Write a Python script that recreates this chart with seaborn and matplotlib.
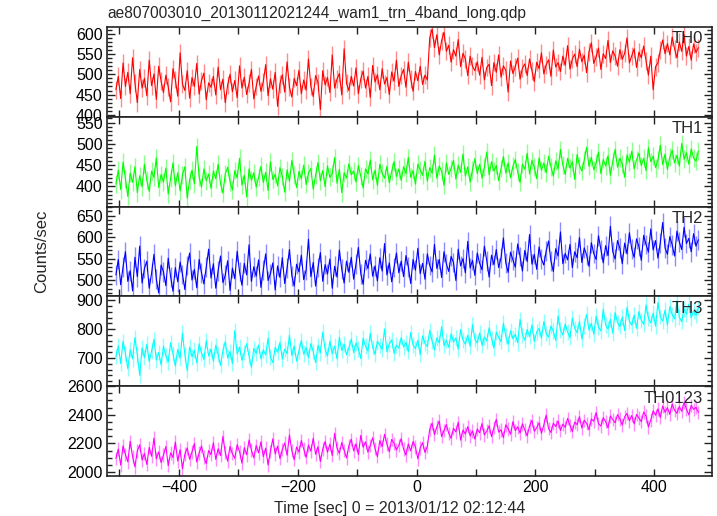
import numpy as np
import pandas as pd
import matplotlib
matplotlib.use("Agg")
import matplotlib.pyplot as plt
from matplotlib.ticker import MultipleLocator
import seaborn as sns

title = "ae807003010_20130112021244_wam1_trn_4band_long.qdp"
xlabel = "Time [sec] 0 = 2013/01/12 02:12:44"
ylabel = "Counts/sec"
t_start, t_step = -506, 4

th0 = [462, 495, 440, 528, 470, 505, 452, 541, 478, 430, 512, 466, 490, 447, 535, 472, 501, 438, 520, 483,
       455, 498, 469, 432, 514, 487, 446, 553, 476, 460, 509, 441, 492, 470, 527, 451, 484, 503, 437, 479,
       468, 495, 449, 518, 462, 488, 430, 474, 500, 457, 485, 442, 521, 466, 493, 450, 478, 512, 439, 470,
       496, 458, 482, 524, 447, 489, 463, 505, 421, 477, 499, 456, 531, 468, 444, 490, 472, 510, 452, 486,
       461, 538, 470, 445, 497, 480, 413, 509, 474, 492, 455, 548, 466, 488, 502, 449, 563, 478, 460, 495,
       471, 516, 452, 489, 508, 466, 495, 443, 522, 481, 499, 462, 514, 476, 492, 450, 506, 483, 535, 470,
       497, 512, 468, 530, 489, 458, 507, 484, 520, 475, 498, 486,
       590, 612, 566, 598, 548, 583, 604, 557, 572, 530, 561, 545, 586, 519, 552, 538, 497, 545, 520, 509,
       531, 498, 542, 486, 517, 525, 472, 529, 505, 548, 493, 521, 510, 456, 533, 502, 519, 540, 488, 515,
       526, 497, 538, 509, 482, 530, 514, 553, 501, 524, 536, 495, 560, 518, 529, 507, 545, 522, 571, 513,
       538, 550, 519, 562, 531, 547, 504, 556, 578, 527, 543, 565, 512, 551, 539, 584, 529, 558, 545, 520,
       561, 537, 552, 590, 528, 546, 563, 517, 555, 541, 570, 533, 498, 545, 462, 519, 528, 560, 585, 551,
       576, 548, 592, 563, 541, 580, 557, 598, 545, 569, 535, 575, 554, 566]

th1 = [405, 438, 392, 457, 418, 376, 431, 409, 446, 385, 425, 399, 452, 414, 388, 436, 421, 467, 397, 428,
       410, 443, 382, 419, 455, 401, 432, 389, 427, 446, 372, 415, 438, 406, 494, 422, 398, 441, 413, 429,
       395, 436, 418, 452, 407, 384, 429, 445, 411, 391, 437, 420, 466, 403, 426, 375, 441, 414, 432, 398,
       421, 447, 409, 433, 390, 458, 416, 428, 401, 444, 423, 386, 439, 412, 461, 427, 397, 435, 418, 450,
       404, 431, 442, 393, 426, 456, 413, 437, 399, 448, 421, 430, 468, 407, 440, 385, 432, 419, 453, 427,
       436, 410, 449, 424, 396, 441, 429, 462, 415, 438, 402, 452, 431, 419, 447, 408, 435, 458, 423, 441,
       414, 446, 430, 468, 421, 437, 405, 452, 439, 426, 459, 412, 444, 431, 473, 419, 448, 436, 402, 455,
       428, 442, 461, 417, 450, 433, 476, 424, 446, 410, 439, 465, 430, 452, 419, 445, 481, 427, 458, 436,
       449, 413, 442, 470, 431, 455, 420, 447, 463, 434, 409, 452, 440, 478, 429, 461, 445, 418, 467, 438,
       455, 432, 471, 446, 424, 460, 441, 487, 450, 428, 466, 443, 458, 416, 475, 449, 436, 462, 492, 447,
       468, 439, 455, 481, 430, 463, 448, 472, 426, 459, 487, 445, 466, 452, 421, 474, 457, 483, 441, 462,
       478, 449, 466, 437, 491, 458, 471, 444, 462, 497, 451, 476, 440, 469, 485, 455, 473, 448, 501, 464,
       479, 452, 488, 467, 459, 483]

th2 = [512, 548, 489, 531, 566, 497, 522, 475, 553, 508, 579, 493, 527, 544, 481, 516, 560, 502, 470, 535,
       519, 487, 551, 508, 474, 529, 496, 542, 513, 478, 534, 563, 500, 525, 482, 548, 517, 491, 530, 572,
       505, 538, 481, 522, 556, 494, 511, 545, 476, 528, 503, 567, 520, 488, 539, 512, 582, 497, 531, 509,
       547, 483, 524, 561, 499, 515, 540, 477, 533, 506, 552, 492, 528, 571, 510, 486, 537, 519, 558, 501,
       523, 595, 508, 541, 486, 529, 564, 497, 536, 514, 549, 481, 532, 507, 570, 525, 493, 544, 518, 553,
       502, 538, 576, 515, 490, 546, 527, 561, 509, 533, 498, 552, 521, 585, 512, 540, 496, 529, 563, 517,
       544, 508, 557, 531, 492, 548, 523, 574, 515, 539, 502, 561, 534, 519, 583, 527, 548, 506, 566, 538,
       520, 555, 541, 499, 572, 533, 550, 517, 590, 528, 546, 511, 563, 539, 524, 579, 545, 507, 558, 536,
       571, 529, 552, 598, 540, 518, 565, 547, 530, 584, 555, 521, 569, 543, 606, 537, 560, 525, 577, 549,
       535, 568, 591, 544, 520, 573, 556, 612, 538, 562, 547, 583, 529, 566, 552, 599, 541, 575, 558, 532,
       587, 562, 548, 603, 571, 540, 580, 557, 625, 566, 549, 592, 574, 538, 586, 561, 610, 572, 553, 596,
       578, 546, 604, 583, 565, 619, 570, 592, 551, 587, 634, 575, 560, 601, 582, 556, 614, 589, 571, 623,
       585, 597, 566, 608, 579, 594]

th3 = [705, 742, 681, 758, 716, 663, 729, 697, 771, 711, 640, 735, 702, 748, 688, 724, 765, 693, 719, 676,
       741, 708, 687, 753, 715, 672, 730, 699, 786, 712, 656, 738, 704, 727, 683, 749, 718, 695, 760, 707,
       731, 689, 744, 712, 674, 726, 757, 700, 722, 681, 795, 714, 738, 692, 719, 750, 706, 668, 733, 716,
       745, 697, 728, 711, 769, 703, 684, 737, 720, 754, 696, 731, 715, 779, 708, 742, 689, 725, 761, 713,
       736, 701, 750, 722, 684, 744, 718, 790, 730, 707, 758, 715, 741, 697, 772, 726, 748, 711, 735, 766,
       719, 752, 732, 698, 769, 741, 724, 786, 737, 713, 758, 744, 730, 801, 722, 749, 763, 716, 745, 734,
       771, 738, 754, 722, 789, 745, 733, 762, 712, 777, 751, 740, 796, 758, 729, 770, 752, 809, 743, 761,
       737, 784, 756, 770, 731, 799, 762, 748, 779, 741, 816, 765, 752, 787, 744, 773, 759, 805, 768, 735,
       790, 771, 757, 821, 776, 748, 795, 767, 782, 753, 834, 780, 762, 799, 774, 815, 758, 790, 803, 769,
       827, 785, 772, 811, 793, 761, 846, 798, 780, 818, 790, 771, 839, 803, 788, 827, 766, 812, 852, 797,
       820, 783, 845, 808, 794, 869, 815, 801, 834, 786, 858, 823, 809, 842, 795, 876, 828, 814, 849, 803,
       861, 831, 817, 884, 838, 822, 856, 810, 893, 844, 828, 866, 815, 879, 851, 836, 898, 842, 826, 870,
       852, 887, 839, 864, 848, 875]

th0123 = [2095, 2160, 2048, 2183, 2122, 2071, 2215, 2108, 2036, 2147, 2190, 2084, 2129, 2053, 2172, 2110, 2237, 2092, 2141, 2066,
          2118, 2178, 2045, 2134, 2101, 2209, 2077, 2156, 2023, 2125, 2168, 2089, 2141, 2198, 2070, 2133, 2182, 2106, 2059, 2150,
          2121, 2204, 2088, 2163, 2115, 2249, 2137, 2076, 2179, 2128, 2095, 2191, 2143, 2062, 2170, 2120, 2224, 2153, 2099, 2185,
          2134, 2211, 2108, 2167, 2049, 2145, 2232, 2126, 2181, 2094, 2158, 2203, 2117, 2259, 2149, 2086, 2175, 2139, 2220, 2161,
          2102, 2188, 2146, 2236, 2124, 2177, 2073, 2160, 2213, 2138, 2195, 2115, 2271, 2167, 2130, 2206, 2152, 2098, 2184, 2229,
          2148, 2197, 2122, 2256, 2173, 2211, 2139, 2186, 2240, 2163, 2107, 2219, 2178, 2264, 2195, 2142, 2228, 2201, 2154, 2187,
          2233, 2160, 2119, 2196, 2148, 2213, 2175, 2092, 2168, 2205, 2137, 2180,
          2298, 2341, 2262, 2315, 2356, 2248, 2290, 2332, 2271, 2236, 2305, 2280, 2348, 2223, 2294, 2266, 2317, 2252, 2287, 2230,
          2301, 2274, 2339, 2259, 2286, 2323, 2247, 2310, 2368, 2279, 2295, 2241, 2330, 2302, 2264, 2352, 2289, 2316, 2273, 2337,
          2296, 2253, 2322, 2361, 2285, 2310, 2344, 2271, 2329, 2398, 2303, 2276, 2341, 2318, 2357, 2290, 2335, 2312, 2375, 2326,
          2283, 2349, 2331, 2387, 2307, 2362, 2340, 2296, 2371, 2355, 2416, 2338, 2321, 2380, 2353, 2309, 2392, 2366, 2344, 2401,
          2372, 2329, 2385, 2410, 2358, 2395, 2336, 2403, 2377, 2352, 2419, 2391, 2315, 2364, 2428, 2397, 2441, 2381, 2462, 2418,
          2449, 2403, 2475, 2432, 2410, 2458, 2424, 2487, 2441, 2399, 2466, 2438, 2452, 2417]

band_names = ["TH0", "TH1", "TH2", "TH3", "TH0123"]
band_values = [th0, th1, th2, th3, th0123]
band_errors = [22, 21, 23, 27, 47]
band_colors = ["#ff0000", "#00ff00", "#0000ff", "#00ffff", "#ff00ff"]
band_ylims = [(395, 617), (352, 564), (462, 671), (602, 914), (1972, 2600)]
band_major = [50, 50, 50, 100, 200]
band_minor = [10, 10, 10, 20, 50]

sns.set_style("ticks")
plt.rcParams["font.family"] = ["Liberation Sans", "DejaVu Sans"]

W, H = 717, 516
fig = plt.figure(figsize=(W / 100, H / 100), dpi=100)
left_px, right_px, top_px, bot_px = 107, 712, 27, 476
ph = (bot_px - top_px) / 5

for k, (name, vals, err, col, yl, mj, mn) in enumerate(zip(
        band_names, band_values, band_errors, band_colors, band_ylims, band_major, band_minor)):
    y0 = top_px + ph * (k + 1)
    ax = fig.add_axes([left_px / W, 1 - y0 / H, (right_px - left_px) / W, ph / H])
    v = np.asarray(vals, dtype=float)
    t = t_start + t_step * np.arange(len(v))
    df = pd.DataFrame({"t": t, "v": v})
    ax.vlines(df["t"], df["v"] - err, df["v"] + err, color=col, alpha=0.45, lw=1.0)
    sns.lineplot(data=df, x="t", y="v", ax=ax, color=col, lw=0.8)
    ax.set_xlim(-521, 497)
    ax.set_ylim(*yl)
    ax.set_xlabel("")
    ax.set_ylabel("")
    ax.xaxis.set_major_locator(MultipleLocator(200))
    ax.xaxis.set_minor_locator(MultipleLocator(100))
    ax.yaxis.set_major_locator(MultipleLocator(mj))
    ax.yaxis.set_minor_locator(MultipleLocator(mn))
    ax.tick_params(which="both", direction="in", top=True, right=True, colors="#222222",
                   labelcolor="black", labelsize=11.5, width=1.0)
    ax.tick_params(which="major", length=6, pad=3)
    ax.tick_params(which="minor", length=3.5)
    ax.tick_params(axis="x", which="both", length=5)
    if k < 4:
        ax.tick_params(axis="x", labelbottom=False)
    for s in ax.spines.values():
        s.set_linewidth(1.2)
        s.set_color("#222222")
    ax.text(0.985, 0.95, name, transform=ax.transAxes, ha="right", va="top", fontsize=12)

fig.text(left_px / W, 1 - 13 / H, title, ha="left", va="center", fontsize=11.2)
fig.text(42 / W, 1 - 251 / H, ylabel, rotation=90, ha="center", va="center", fontsize=12)
fig.text(400 / W, 1 - 508 / H, xlabel, ha="center", va="center", fontsize=11.5)

fig.savefig("out.png", dpi=100)
